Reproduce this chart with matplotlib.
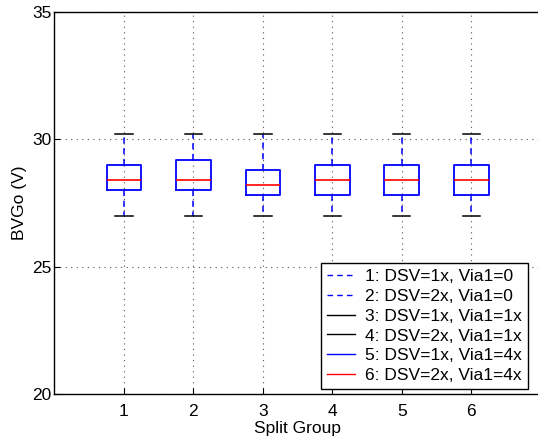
import matplotlib
matplotlib.use("Agg")
import matplotlib.pyplot as plt
from matplotlib.lines import Line2D

plt.rcParams['font.family'] = ['Liberation Sans', 'DejaVu Sans']

groups = [1, 2, 3, 4, 5, 6]
whisker_lo = [27.0, 27.0, 27.0, 27.0, 27.0, 27.0]
q1 = [28.0, 28.0, 27.8, 27.8, 27.8, 27.8]
median = [28.4, 28.4, 28.2, 28.4, 28.4, 28.4]
q3 = [29.0, 29.2, 28.8, 29.0, 29.0, 29.0]
whisker_hi = [30.2, 30.2, 30.2, 30.2, 30.2, 30.2]
legend_labels = ["1: DSV=1x, Via1=0", "2: DSV=2x, Via1=0", "3: DSV=1x, Via1=1x",
                 "4: DSV=2x, Via1=1x", "5: DSV=1x, Via1=4x", "6: DSV=2x, Via1=4x"]
xlabel = "Split Group"
ylabel = "BVGo (V)"

FS = 12.5
W, H = 538, 438
fig = plt.figure(figsize=(W/100, H/100), dpi=100)
left, right, top, bottom = 54.5, 540.7, 12, 394
ax = fig.add_axes([left/W, 1-bottom/H, (right-left)/W, (bottom-top)/H])

stats = []
for i in range(len(groups)):
    stats.append(dict(med=median[i], q1=q1[i], q3=q3[i], whislo=whisker_lo[i],
                      whishi=whisker_hi[i], fliers=[], label=str(groups[i])))

ax.bxp(stats, positions=groups, widths=0.5, showfliers=False,
       boxprops=dict(color='blue', linewidth=1.3),
       whiskerprops=dict(color='blue', linestyle=(0, (4, 3)), linewidth=1.1),
       capprops=dict(color='black', linewidth=1.1),
       medianprops=dict(color='red', linewidth=1.2),
       capwidths=0.25, zorder=3)

ax.set_xlim(0, 7)
ax.set_ylim(20, 35)
ax.set_xticks(groups)
ax.set_xticklabels([str(g) for g in groups])
ax.set_yticks([20, 25, 30, 35])
ax.grid(True, linestyle=(0, (1, 4)), color='#555555', linewidth=0.8)
ax.set_axisbelow(True)
ax.tick_params(direction='in', length=4, labelsize=FS, width=0.8)
ax.tick_params(axis='x', pad=7)
ax.tick_params(axis='y', pad=2)
for s in ax.spines.values():
    s.set_linewidth(1.0)
ax.set_xlabel(xlabel, fontsize=FS, labelpad=1.5)
ax.set_ylabel(ylabel, fontsize=FS, labelpad=4)

handles = [
    Line2D([], [], color='blue', linestyle=(0, (4, 3)), linewidth=1),
    Line2D([], [], color='blue', linestyle=(0, (4, 3)), linewidth=1),
    Line2D([], [], color='black', linewidth=1),
    Line2D([], [], color='black', linewidth=1),
    Line2D([], [], color='blue', linewidth=1),
    Line2D([], [], color='red', linewidth=1),
]
leg = ax.legend(handles, legend_labels, loc='lower right',
                bbox_to_anchor=(528.3/W, 1-389.3/H), bbox_transform=fig.transFigure,
                borderaxespad=0, fontsize=FS, fancybox=False, framealpha=1,
                edgecolor='black', handlelength=1.6, handletextpad=0.6,
                labelspacing=0.27, borderpad=0.35)
leg.get_frame().set_linewidth(1.0)
leg.set_zorder(5)

fig.savefig("out.png", dpi=100)
